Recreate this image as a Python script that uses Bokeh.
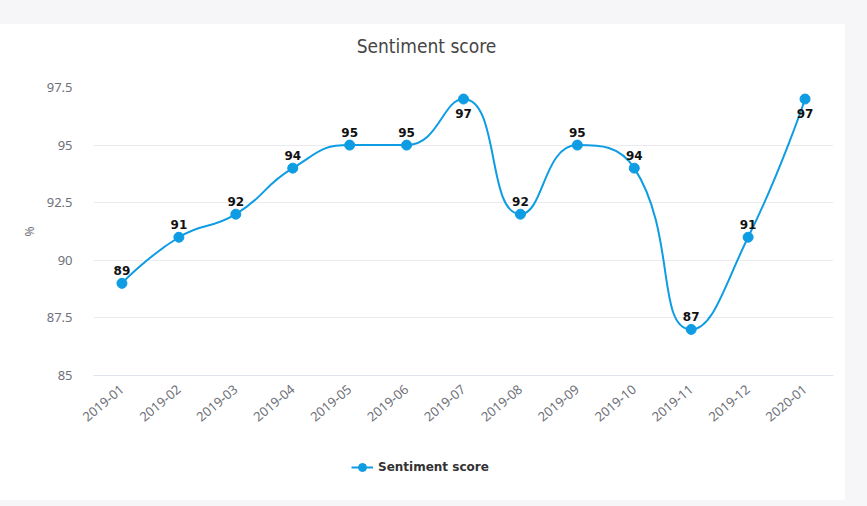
import math
from bokeh.plotting import figure
from bokeh.models import (Range1d, FixedTicker, CustomJSTickFormatter, Label,
                          Legend, LegendItem, ColumnDataSource)
from bokeh.layouts import column
from bokeh.embed import file_html
from bokeh.resources import INLINE
from bokeh.core.properties import value

# ---------------- data ----------------
months = ["2019-01", "2019-02", "2019-03", "2019-04", "2019-05", "2019-06", "2019-07",
          "2019-08", "2019-09", "2019-10", "2019-11", "2019-12", "2020-01"]
scores = [89, 91, 92, 94, 95, 95, 97, 92, 95, 94, 87, 91, 97]
y_ticks = [85, 87.5, 90, 92.5, 95, 97.5]
chart_title = "Sentiment score"
series_name = "Sentiment score"
y_title = "%"

# ---------------- layout constants ----------------
W = 845
TH = 40                 # title strip height
H = 376                 # chart height
LH = 60                 # legend strip height
ML, MR, MT, MB = 93, 12, 23, 65
frame_w = W - ML - MR
frame_h = H - MT - MB
COLOR = "#0e9ce3"
GRAY = "#6e7079"

y_min, y_max = y_ticks[0], y_ticks[-1]
n = len(months)
sx = frame_w / n
sy = frame_h / (y_max - y_min)


def smooth_segments(px, py, smooth=0.5):
    segs = []
    cnt = len(px)
    cpx0, cpy0 = px[0], py[0]
    prevX, prevY = px[0], py[0]
    for k in range(1, cnt):
        x, y = px[k], py[k]
        if k == cnt - 1:
            cpx1, cpy1 = x, y
            nx0, ny0 = x, y
        else:
            nextX, nextY = px[k + 1], py[k + 1]
            vx = nextX - prevX
            vy = nextY - prevY
            lp = math.hypot(x - prevX, y - prevY)
            ln = math.hypot(nextX - x, nextY - y)
            r = ln / (ln + lp)
            nx0 = x + vx * smooth * r
            ny0 = y + vy * smooth * r
            nx0 = min(nx0, max(nextX, x)); ny0 = min(ny0, max(nextY, y))
            nx0 = max(nx0, min(nextX, x)); ny0 = max(ny0, min(nextY, y))
            vx = nx0 - x; vy = ny0 - y
            cpx1 = x - vx * lp / ln; cpy1 = y - vy * lp / ln
            cpx1 = min(cpx1, max(prevX, x)); cpy1 = min(cpy1, max(prevY, y))
            cpx1 = max(cpx1, min(prevX, x)); cpy1 = max(cpy1, min(prevY, y))
            vx = x - cpx1; vy = y - cpy1
            nx0 = x + vx * ln / lp; ny0 = y + vy * ln / lp
        segs.append((prevX, prevY, cpx0, cpy0, cpx1, cpy1, x, y))
        cpx0, cpy0 = nx0, ny0
        prevX, prevY = x, y
    return segs


xs = list(range(n))
px = [i * sx for i in xs]
py = [v * sy for v in scores]
segs = smooth_segments(px, py)
bez = ColumnDataSource(dict(
    x0=[s[0] / sx for s in segs], y0=[s[1] / sy for s in segs],
    cx0=[s[2] / sx for s in segs], cy0=[s[3] / sy for s in segs],
    cx1=[s[4] / sx for s in segs], cy1=[s[5] / sy for s in segs],
    x1=[s[6] / sx for s in segs], y1=[s[7] / sy for s in segs],
))

top_val = max(scores)
pts = ColumnDataSource(dict(
    x=xs, y=scores, txt=[str(v) for v in scores],
    base=["top" if v == top_val else "bottom" for v in scores],
    off=[10 if v == top_val else -8 for v in scores],
))


def strip(h):
    f = figure(width=W, height=h, output_backend="svg", toolbar_location=None,
               x_range=Range1d(0, 1), y_range=Range1d(0, 1),
               x_axis_location=None, y_axis_location=None,
               min_border_left=0, min_border_right=0, min_border_top=0, min_border_bottom=0,
               background_fill_color="white", border_fill_color="white",
               outline_line_color=None)
    f.grid.visible = False
    return f


# ---------------- title strip ----------------
tf = strip(TH)
tf.add_layout(Label(x=333, y=19, x_units="screen", y_units="screen", text=chart_title,
                    text_align="center", text_baseline="middle",
                    text_font="DejaVu Sans Condensed, Noto Sans", text_font_size="19px",
                    text_color="#464646"))

# ---------------- main chart ----------------
p = figure(width=W, height=H, output_backend="svg", toolbar_location=None,
           x_range=Range1d(-0.5, n - 0.5), y_range=Range1d(y_min, y_max),
           min_border_left=ML, min_border_right=MR, min_border_top=MT, min_border_bottom=MB,
           background_fill_color="white", border_fill_color="white", outline_line_color=None)

p.xaxis.ticker = FixedTicker(ticks=xs)
p.xaxis.major_label_overrides = {i: m for i, m in zip(xs, months)}
p.xaxis.major_label_orientation = math.radians(40)
p.xaxis.axis_line_color = "#dfe3ef"
p.xaxis.axis_line_width = 1
p.xaxis.major_tick_line_color = None
p.xaxis.minor_tick_line_color = None
p.xaxis.major_label_text_color = GRAY
p.xaxis.major_label_text_font = "Noto Sans"
p.xaxis.major_label_text_font_size = "13px"
p.xaxis.major_label_standoff = 6

p.yaxis.ticker = FixedTicker(ticks=y_ticks)
p.yaxis.formatter = CustomJSTickFormatter(code="return tick.toString();")
p.yaxis.axis_line_color = None
p.yaxis.major_tick_line_color = None
p.yaxis.minor_tick_line_color = None
p.yaxis.major_label_text_color = GRAY
p.yaxis.major_label_text_font = "Noto Sans"
p.yaxis.major_label_text_font_size = "13px"
p.yaxis.major_label_standoff = 15
p.yaxis.axis_label = y_title
p.yaxis.axis_label_text_color = GRAY
p.yaxis.axis_label_text_font = "Noto Sans"
p.yaxis.axis_label_text_font_style = "normal"
p.yaxis.axis_label_text_font_size = "12px"
p.yaxis.axis_label_standoff = 6

p.xgrid.grid_line_color = None
p.ygrid.grid_line_color = "#ebebef"
p.ygrid.grid_line_width = 1

p.bezier(x0="x0", y0="y0", x1="x1", y1="y1", cx0="cx0", cy0="cy0", cx1="cx1", cy1="cy1",
         source=bez, line_color=COLOR, line_width=2)
p.scatter(x="x", y="y", source=pts, size=10, fill_color=COLOR, line_color=COLOR)

p.text(x="x", y="y", text="txt", source=pts, text_align="center", text_baseline="base",
       y_offset="off", text_font=value("DejaVu Sans"), text_font_style="bold",
       text_font_size="12px", text_color="#111111")

# ---------------- legend strip ----------------
lf = strip(LH)
leg_line = lf.line(x=[-5, -4], y=[-5, -4], line_color=COLOR, line_width=2)
leg_pt = lf.scatter(x=[-5], y=[-5], size=10, fill_color=COLOR, line_color=COLOR)
legend = Legend(items=[LegendItem(label=series_name, renderers=[leg_line, leg_pt])],
                location=(258, 23), orientation="horizontal",
                label_text_font="DejaVu Sans", label_text_font_style="bold",
                label_text_font_size="12px", label_text_color="#333333",
                glyph_width=22, glyph_height=20, label_height=20, label_standoff=5,
                padding=0, margin=0, border_line_color=None, background_fill_alpha=0)
lf.add_layout(legend)

card = column(tf, p, lf, spacing=0, margin=(24, 0, 0, 0),
              styles={"background-color": "white"})
root = column(card, width=867, height=506, spacing=0,
              styles={"background-color": "#f6f6f9"})
open("out.html", "w").write(file_html(root, INLINE))
